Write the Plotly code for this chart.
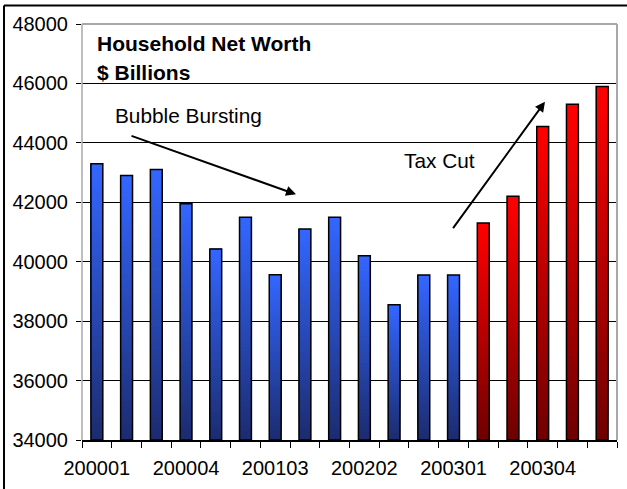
import plotly.graph_objects as go

# Quarterly household net worth, $ billions
quarters = [
    "200001", "200002", "200003", "200004",
    "200101", "200102", "200103", "200104",
    "200201", "200202", "200203", "200204",
    "200301", "200302", "200303", "200304",
    "200401", "200402",
]
net_worth = [
    43300, 42900, 43100, 41950,
    40430, 41500, 39560, 41100,
    41500, 40200, 38550, 39550,
    39550, 41300, 42200, 44550,
    45300, 45900,
]
# first quarter after the tax cut
tax_cut_start = "200302"
tick_labels = [q if i % 3 == 0 else "" for i, q in enumerate(quarters)]

Y_MIN, Y_MAX = 34000, 48000
FONT = "Liberation Sans, Arial, sans-serif"

blue_top, blue_bottom = (51, 102, 255), (28, 44, 112)
red_top, red_bottom = (255, 0, 0), (112, 0, 0)

split = quarters.index(tax_cut_start)
heights = [v - Y_MIN for v in net_worth]


def mix(c0, c1, t):
    return "rgb({},{},{})".format(*[round(a + (b - a) * t) for a, b in zip(c0, c1)])


fig = go.Figure()

# vertical colour gradient: stacked overlays, each reaching the bar top
N = 48
for k in range(N):
    t = k / (N - 1)
    colors = [mix(blue_bottom, blue_top, t) if i < split else mix(red_bottom, red_top, t)
              for i in range(len(quarters))]
    fig.add_trace(go.Bar(
        x=quarters,
        y=[h * (N - k) / N for h in heights],
        base=[Y_MIN + h * k / N for h in heights],
        width=0.4,
        marker=dict(color=colors, line=dict(width=0)),
        hoverinfo="skip",
        showlegend=False,
    ))

# black outline of each bar
fig.add_trace(go.Bar(
    x=quarters,
    y=heights,
    base=[Y_MIN] * len(quarters),
    width=0.4,
    marker=dict(color="rgba(0,0,0,0)", line=dict(color="black", width=1.5)),
    customdata=net_worth,
    hovertemplate="%{x}: %{customdata}<extra></extra>",
    showlegend=False,
))

annotations = [
    dict(text="<b>Household Net Worth</b>", x=0.0235, y=0.9543, size=21),
    dict(text="<b>$ Billions</b>", x=0.0235, y=0.8841, size=21),
    dict(text="Bubble Bursting", x=0.0575, y=0.780, size=20.8),
    dict(text="Tax Cut", x=0.598, y=0.672, size=20.8),
]
ann = [
    dict(text=a["text"], x=a["x"], y=a["y"], xref="paper", yref="paper",
         xanchor="left", yanchor="middle", showarrow=False,
         font=dict(family=FONT, size=a["size"], color="black"))
    for a in annotations
]
# trend arrows
ann += [
    dict(text="", x=0.400, y=0.5906, xref="paper", yref="paper",
         ax=-166, ay=-59, showarrow=True, arrowhead=2, arrowsize=1,
         arrowwidth=2, arrowcolor="black", standoff=0),
    dict(text="", x=0.8654, y=0.8132, xref="paper", yref="paper",
         ax=-93, ay=128, showarrow=True, arrowhead=2, arrowsize=1,
         arrowwidth=2, arrowcolor="black", standoff=0),
]

gray = "#A8A8A8"
shapes = [
    # plot-area frame (top, right, left)
    dict(type="line", xref="paper", yref="paper", x0=0, x1=1, y0=1, y1=1,
         line=dict(color=gray, width=2), layer="above"),
    dict(type="line", xref="paper", yref="paper", x0=1, x1=1, y0=0, y1=1,
         line=dict(color=gray, width=2), layer="above"),
    dict(type="line", xref="paper", yref="paper", x0=0, x1=0, y0=0, y1=1,
         line=dict(color=gray, width=1.5), layer="above"),
    # chart outer border
    dict(type="line", xref="paper", yref="paper", x0=-0.1458, x1=1.1, y0=1.0445, y1=1.0445,
         line=dict(color="black", width=2), layer="above"),
    dict(type="line", xref="paper", yref="paper", x0=-0.1458, x1=-0.1458, y0=-0.2, y1=1.0445,
         line=dict(color="black", width=2), layer="above"),
]

fig.update_layout(
    width=627, height=489,
    margin=dict(l=82, r=10, t=24, b=49),
    paper_bgcolor="white", plot_bgcolor="white",
    barmode="overlay",
    font=dict(family=FONT, size=20, color="black"),
    annotations=ann,
    shapes=shapes,
    xaxis=dict(
        type="category",
        tickmode="array", tickvals=quarters, ticktext=tick_labels,
        tickson="boundaries", ticks="outside", ticklen=6, tickwidth=1,
        tickcolor="black", showgrid=False, tickangle=0, automargin=False,
        ticklabelstandoff=9,
        showline=True, linecolor="black", linewidth=1.5,
        tickfont=dict(family=FONT, size=20, color="black"),
        range=[-0.5, len(quarters) - 0.5],
    ),
    yaxis=dict(
        range=[Y_MIN, Y_MAX], dtick=2000, tick0=Y_MIN, automargin=False,
        ticks="outside", ticklen=5, tickwidth=1, tickcolor="black",
        ticklabelstandoff=4,
        showgrid=True, gridcolor="black", gridwidth=1,
        zeroline=False, showline=False,
        tickformat="d",
        tickfont=dict(family=FONT, size=20, color="black"),
    ),
)

fig.write_html("out.html")
